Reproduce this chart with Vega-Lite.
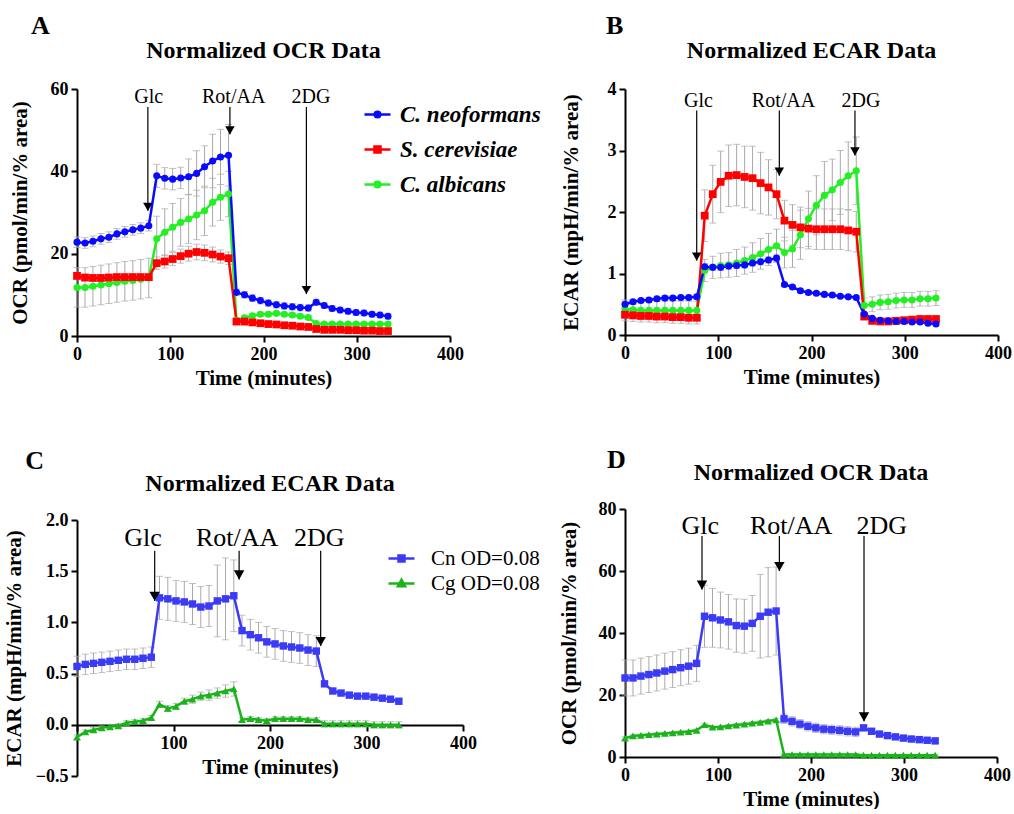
{
"$schema":"https://vega.github.io/schema/vega-lite/v6.json",
"background":"white",
"padding":{"left":3,"top":12,"right":0,"bottom":0},
"config":{"view":{"stroke":null},"font":"Liberation Serif",
 "axis":{"grid":false,"domainColor":"black","domainWidth":2,"tickColor":"black","tickWidth":2,"tickSize":6,"labelFont":"Liberation Serif","labelFontSize":18,"labelFontWeight":"bold","labelColor":"black","titleFont":"Liberation Serif","titleFontSize":21,"titleFontWeight":"bold","titleColor":"black","labelPadding":3,"labelFlush":false,"labelOverlap":false},
 "axisX":{"titlePadding":4},
 "axisY":{"titlePadding":8},
 "title":{"font":"Liberation Serif","fontSize":26,"fontWeight":"bold","color":"black","anchor":"start","frame":"bounds"}
},
"datasets":{
"A":[
{"s":"C. albicans","t":0,"v":11.8,"e":4.8},{"s":"C. albicans","t":8.6,"v":11.8,"e":4.8},{"s":"C. albicans","t":17.1,"v":12.1,"e":4.8},{"s":"C. albicans","t":25.7,"v":12.4,"e":4.8},{"s":"C. albicans","t":34.2,"v":12.7,"e":4.8},{"s":"C. albicans","t":42.8,"v":13.0,"e":4.8},{"s":"C. albicans","t":51.3,"v":13.3,"e":4.8},{"s":"C. albicans","t":59.9,"v":13.5,"e":4.8},{"s":"C. albicans","t":68.4,"v":13.8,"e":4.8},{"s":"C. albicans","t":77,"v":14.1,"e":4.8},
{"s":"C. albicans","t":85.5,"v":23.6,"e":5.5},{"s":"C. albicans","t":94.1,"v":25.2,"e":5.7},{"s":"C. albicans","t":102.6,"v":26.4,"e":5.8},{"s":"C. albicans","t":111.2,"v":27.6,"e":5.8},{"s":"C. albicans","t":119.7,"v":28.4,"e":5.9},{"s":"C. albicans","t":128.3,"v":29.4,"e":6.0},{"s":"C. albicans","t":136.8,"v":30.4,"e":6.0},{"s":"C. albicans","t":145.4,"v":32.5,"e":5.8},{"s":"C. albicans","t":153.9,"v":33.7,"e":5.6},{"s":"C. albicans","t":162.5,"v":34.5,"e":5.5},
{"s":"C. albicans","t":171,"v":3.8,"e":0.5},{"s":"C. albicans","t":179.6,"v":4.4,"e":0.5},{"s":"C. albicans","t":188.1,"v":4.9,"e":0.5},{"s":"C. albicans","t":196.7,"v":5.3,"e":0.5},{"s":"C. albicans","t":205.2,"v":5.3,"e":0.5},{"s":"C. albicans","t":213.8,"v":5.5,"e":0.5},{"s":"C. albicans","t":222.3,"v":5.3,"e":0.5},{"s":"C. albicans","t":230.9,"v":5.1,"e":0.5},{"s":"C. albicans","t":239.4,"v":4.8,"e":0.5},{"s":"C. albicans","t":248,"v":4.5,"e":0.5},
{"s":"C. albicans","t":256.5,"v":3.0,"e":0.4},{"s":"C. albicans","t":265.1,"v":2.9,"e":0.4},{"s":"C. albicans","t":273.6,"v":2.9,"e":0.4},{"s":"C. albicans","t":282.2,"v":2.9,"e":0.4},{"s":"C. albicans","t":290.7,"v":2.9,"e":0.4},{"s":"C. albicans","t":299.3,"v":2.9,"e":0.4},{"s":"C. albicans","t":307.8,"v":2.9,"e":0.4},{"s":"C. albicans","t":316.4,"v":2.9,"e":0.4},{"s":"C. albicans","t":324.9,"v":2.9,"e":0.4},{"s":"C. albicans","t":333.5,"v":2.9,"e":0.4},
{"s":"S. cerevisiae","t":0,"v":14.6,"e":0.8},{"s":"S. cerevisiae","t":8.6,"v":14.2,"e":0.8},{"s":"S. cerevisiae","t":17.1,"v":14.1,"e":0.8},{"s":"S. cerevisiae","t":25.7,"v":14.1,"e":0.8},{"s":"S. cerevisiae","t":34.2,"v":14.2,"e":0.8},{"s":"S. cerevisiae","t":42.8,"v":14.3,"e":0.8},{"s":"S. cerevisiae","t":51.3,"v":14.3,"e":0.8},{"s":"S. cerevisiae","t":59.9,"v":14.3,"e":0.8},{"s":"S. cerevisiae","t":68.4,"v":14.3,"e":0.8},{"s":"S. cerevisiae","t":77,"v":14.3,"e":0.8},
{"s":"S. cerevisiae","t":85.5,"v":17.7,"e":1.5},{"s":"S. cerevisiae","t":94.1,"v":18.1,"e":1.6},{"s":"S. cerevisiae","t":102.6,"v":18.7,"e":1.6},{"s":"S. cerevisiae","t":111.2,"v":19.4,"e":1.7},{"s":"S. cerevisiae","t":119.7,"v":20.0,"e":1.8},{"s":"S. cerevisiae","t":128.3,"v":20.4,"e":1.9},{"s":"S. cerevisiae","t":136.8,"v":20.2,"e":1.9},{"s":"S. cerevisiae","t":145.4,"v":19.8,"e":1.8},{"s":"S. cerevisiae","t":153.9,"v":19.3,"e":1.6},{"s":"S. cerevisiae","t":162.5,"v":18.9,"e":1.5},
{"s":"S. cerevisiae","t":171,"v":3.5,"e":0.4},{"s":"S. cerevisiae","t":179.6,"v":3.5,"e":0.4},{"s":"S. cerevisiae","t":188.1,"v":3.3,"e":0.4},{"s":"S. cerevisiae","t":196.7,"v":3.1,"e":0.4},{"s":"S. cerevisiae","t":205.2,"v":2.9,"e":0.4},{"s":"S. cerevisiae","t":213.8,"v":2.8,"e":0.4},{"s":"S. cerevisiae","t":222.3,"v":2.6,"e":0.4},{"s":"S. cerevisiae","t":230.9,"v":2.5,"e":0.4},{"s":"S. cerevisiae","t":239.4,"v":2.3,"e":0.4},{"s":"S. cerevisiae","t":248,"v":2.2,"e":0.4},
{"s":"S. cerevisiae","t":256.5,"v":1.7,"e":0.3},{"s":"S. cerevisiae","t":265.1,"v":1.5,"e":0.3},{"s":"S. cerevisiae","t":273.6,"v":1.5,"e":0.3},{"s":"S. cerevisiae","t":282.2,"v":1.5,"e":0.3},{"s":"S. cerevisiae","t":290.7,"v":1.4,"e":0.3},{"s":"S. cerevisiae","t":299.3,"v":1.4,"e":0.3},{"s":"S. cerevisiae","t":307.8,"v":1.3,"e":0.3},{"s":"S. cerevisiae","t":316.4,"v":1.3,"e":0.3},{"s":"S. cerevisiae","t":324.9,"v":1.2,"e":0.3},{"s":"S. cerevisiae","t":333.5,"v":1.2,"e":0.3},
{"s":"C. neoformans","t":0,"v":22.8,"e":1.3},{"s":"C. neoformans","t":8.6,"v":22.6,"e":1.3},{"s":"C. neoformans","t":17.1,"v":23.0,"e":1.3},{"s":"C. neoformans","t":25.7,"v":23.6,"e":1.3},{"s":"C. neoformans","t":34.2,"v":24.0,"e":1.3},{"s":"C. neoformans","t":42.8,"v":24.8,"e":1.3},{"s":"C. neoformans","t":51.3,"v":25.3,"e":1.3},{"s":"C. neoformans","t":59.9,"v":25.8,"e":1.3},{"s":"C. neoformans","t":68.4,"v":26.2,"e":1.3},{"s":"C. neoformans","t":77,"v":26.8,"e":1.3},
{"s":"C. neoformans","t":85.5,"v":38.9,"e":2.8},{"s":"C. neoformans","t":94.1,"v":38.3,"e":2.6},{"s":"C. neoformans","t":102.6,"v":38.1,"e":2.6},{"s":"C. neoformans","t":111.2,"v":38.4,"e":2.6},{"s":"C. neoformans","t":119.7,"v":38.7,"e":4.3},{"s":"C. neoformans","t":128.3,"v":39.5,"e":5.5},{"s":"C. neoformans","t":136.8,"v":41.1,"e":5.1},{"s":"C. neoformans","t":145.4,"v":42.5,"e":6.5},{"s":"C. neoformans","t":153.9,"v":43.5,"e":6.7},{"s":"C. neoformans","t":162.5,"v":43.9,"e":7.5},
{"s":"C. neoformans","t":171,"v":10.6,"e":0.8},{"s":"C. neoformans","t":179.6,"v":10.0,"e":0.8},{"s":"C. neoformans","t":188.1,"v":9.2,"e":0.8},{"s":"C. neoformans","t":196.7,"v":8.6,"e":0.8},{"s":"C. neoformans","t":205.2,"v":8.0,"e":0.8},{"s":"C. neoformans","t":213.8,"v":7.6,"e":0.8},{"s":"C. neoformans","t":222.3,"v":7.3,"e":0.8},{"s":"C. neoformans","t":230.9,"v":7.1,"e":0.8},{"s":"C. neoformans","t":239.4,"v":6.9,"e":0.8},{"s":"C. neoformans","t":248,"v":6.8,"e":0.8},
{"s":"C. neoformans","t":256.5,"v":8.2,"e":0.7},{"s":"C. neoformans","t":265.1,"v":7.4,"e":0.7},{"s":"C. neoformans","t":273.6,"v":6.7,"e":0.7},{"s":"C. neoformans","t":282.2,"v":6.3,"e":0.7},{"s":"C. neoformans","t":290.7,"v":6.0,"e":0.7},{"s":"C. neoformans","t":299.3,"v":5.7,"e":0.7},{"s":"C. neoformans","t":307.8,"v":5.6,"e":0.7},{"s":"C. neoformans","t":316.4,"v":5.3,"e":0.7},{"s":"C. neoformans","t":324.9,"v":5.1,"e":0.7},{"s":"C. neoformans","t":333.5,"v":4.8,"e":0.7}
],
"B":[
{"s":"C. albicans","t":0,"v":0.42,"e":0.15},{"s":"C. albicans","t":8.6,"v":0.41,"e":0.15},{"s":"C. albicans","t":17.1,"v":0.40,"e":0.15},{"s":"C. albicans","t":25.7,"v":0.40,"e":0.15},{"s":"C. albicans","t":34.2,"v":0.40,"e":0.15},{"s":"C. albicans","t":42.8,"v":0.40,"e":0.15},{"s":"C. albicans","t":51.3,"v":0.40,"e":0.15},{"s":"C. albicans","t":59.9,"v":0.40,"e":0.15},{"s":"C. albicans","t":68.4,"v":0.40,"e":0.15},{"s":"C. albicans","t":77,"v":0.40,"e":0.15},
{"s":"C. albicans","t":85.5,"v":1.05,"e":0.18},{"s":"C. albicans","t":94.1,"v":1.10,"e":0.18},{"s":"C. albicans","t":102.6,"v":1.13,"e":0.2},{"s":"C. albicans","t":111.2,"v":1.14,"e":0.2},{"s":"C. albicans","t":119.7,"v":1.17,"e":0.22},{"s":"C. albicans","t":128.3,"v":1.21,"e":0.22},{"s":"C. albicans","t":136.8,"v":1.26,"e":0.24},{"s":"C. albicans","t":145.4,"v":1.32,"e":0.25},{"s":"C. albicans","t":153.9,"v":1.39,"e":0.26},{"s":"C. albicans","t":162.5,"v":1.45,"e":0.27},
{"s":"C. albicans","t":171,"v":1.34,"e":0.25},{"s":"C. albicans","t":179.6,"v":1.40,"e":0.3},{"s":"C. albicans","t":188.1,"v":1.63,"e":0.4},{"s":"C. albicans","t":196.7,"v":1.89,"e":0.45},{"s":"C. albicans","t":205.2,"v":2.11,"e":0.48},{"s":"C. albicans","t":213.8,"v":2.27,"e":0.55},{"s":"C. albicans","t":222.3,"v":2.36,"e":0.5},{"s":"C. albicans","t":230.9,"v":2.48,"e":0.52},{"s":"C. albicans","t":239.4,"v":2.59,"e":0.55},{"s":"C. albicans","t":248,"v":2.67,"e":0.55},
{"s":"C. albicans","t":256.5,"v":0.48,"e":0.12},{"s":"C. albicans","t":265.1,"v":0.50,"e":0.12},{"s":"C. albicans","t":273.6,"v":0.53,"e":0.12},{"s":"C. albicans","t":282.2,"v":0.54,"e":0.12},{"s":"C. albicans","t":290.7,"v":0.56,"e":0.12},{"s":"C. albicans","t":299.3,"v":0.57,"e":0.12},{"s":"C. albicans","t":307.8,"v":0.57,"e":0.12},{"s":"C. albicans","t":316.4,"v":0.59,"e":0.12},{"s":"C. albicans","t":324.9,"v":0.59,"e":0.12},{"s":"C. albicans","t":333.5,"v":0.60,"e":0.12},
{"s":"S. cerevisiae","t":0,"v":0.33,"e":0.1},{"s":"S. cerevisiae","t":8.6,"v":0.32,"e":0.1},{"s":"S. cerevisiae","t":17.1,"v":0.31,"e":0.1},{"s":"S. cerevisiae","t":25.7,"v":0.31,"e":0.1},{"s":"S. cerevisiae","t":34.2,"v":0.30,"e":0.1},{"s":"S. cerevisiae","t":42.8,"v":0.30,"e":0.1},{"s":"S. cerevisiae","t":51.3,"v":0.29,"e":0.1},{"s":"S. cerevisiae","t":59.9,"v":0.29,"e":0.1},{"s":"S. cerevisiae","t":68.4,"v":0.28,"e":0.1},{"s":"S. cerevisiae","t":77,"v":0.28,"e":0.1},
{"s":"S. cerevisiae","t":85.5,"v":1.94,"e":0.42},{"s":"S. cerevisiae","t":94.1,"v":2.29,"e":0.47},{"s":"S. cerevisiae","t":102.6,"v":2.49,"e":0.5},{"s":"S. cerevisiae","t":111.2,"v":2.59,"e":0.5},{"s":"S. cerevisiae","t":119.7,"v":2.60,"e":0.5},{"s":"S. cerevisiae","t":128.3,"v":2.57,"e":0.5},{"s":"S. cerevisiae","t":136.8,"v":2.55,"e":0.52},{"s":"S. cerevisiae","t":145.4,"v":2.47,"e":0.5},{"s":"S. cerevisiae","t":153.9,"v":2.40,"e":0.45},{"s":"S. cerevisiae","t":162.5,"v":2.29,"e":0.4},
{"s":"S. cerevisiae","t":171,"v":1.86,"e":0.33},{"s":"S. cerevisiae","t":179.6,"v":1.79,"e":0.33},{"s":"S. cerevisiae","t":188.1,"v":1.75,"e":0.33},{"s":"S. cerevisiae","t":196.7,"v":1.73,"e":0.33},{"s":"S. cerevisiae","t":205.2,"v":1.72,"e":0.33},{"s":"S. cerevisiae","t":213.8,"v":1.72,"e":0.33},{"s":"S. cerevisiae","t":222.3,"v":1.72,"e":0.33},{"s":"S. cerevisiae","t":230.9,"v":1.72,"e":0.33},{"s":"S. cerevisiae","t":239.4,"v":1.70,"e":0.33},{"s":"S. cerevisiae","t":248,"v":1.68,"e":0.33},
{"s":"S. cerevisiae","t":256.5,"v":0.30,"e":0.05},{"s":"S. cerevisiae","t":265.1,"v":0.23,"e":0.05},{"s":"S. cerevisiae","t":273.6,"v":0.22,"e":0.05},{"s":"S. cerevisiae","t":282.2,"v":0.22,"e":0.05},{"s":"S. cerevisiae","t":290.7,"v":0.23,"e":0.05},{"s":"S. cerevisiae","t":299.3,"v":0.24,"e":0.05},{"s":"S. cerevisiae","t":307.8,"v":0.25,"e":0.05},{"s":"S. cerevisiae","t":316.4,"v":0.26,"e":0.05},{"s":"S. cerevisiae","t":324.9,"v":0.26,"e":0.05},{"s":"S. cerevisiae","t":333.5,"v":0.26,"e":0.05},
{"s":"C. neoformans","t":0,"v":0.50,"e":0.04},{"s":"C. neoformans","t":8.6,"v":0.54,"e":0.04},{"s":"C. neoformans","t":17.1,"v":0.56,"e":0.04},{"s":"C. neoformans","t":25.7,"v":0.57,"e":0.04},{"s":"C. neoformans","t":34.2,"v":0.59,"e":0.04},{"s":"C. neoformans","t":42.8,"v":0.60,"e":0.04},{"s":"C. neoformans","t":51.3,"v":0.60,"e":0.04},{"s":"C. neoformans","t":59.9,"v":0.61,"e":0.04},{"s":"C. neoformans","t":68.4,"v":0.61,"e":0.04},{"s":"C. neoformans","t":77,"v":0.62,"e":0.04},
{"s":"C. neoformans","t":85.5,"v":1.11,"e":0.05},{"s":"C. neoformans","t":94.1,"v":1.10,"e":0.05},{"s":"C. neoformans","t":102.6,"v":1.10,"e":0.05},{"s":"C. neoformans","t":111.2,"v":1.12,"e":0.05},{"s":"C. neoformans","t":119.7,"v":1.13,"e":0.05},{"s":"C. neoformans","t":128.3,"v":1.14,"e":0.05},{"s":"C. neoformans","t":136.8,"v":1.17,"e":0.05},{"s":"C. neoformans","t":145.4,"v":1.19,"e":0.05},{"s":"C. neoformans","t":153.9,"v":1.22,"e":0.05},{"s":"C. neoformans","t":162.5,"v":1.25,"e":0.05},
{"s":"C. neoformans","t":171,"v":0.82,"e":0.03},{"s":"C. neoformans","t":179.6,"v":0.78,"e":0.03},{"s":"C. neoformans","t":188.1,"v":0.72,"e":0.03},{"s":"C. neoformans","t":196.7,"v":0.69,"e":0.03},{"s":"C. neoformans","t":205.2,"v":0.68,"e":0.03},{"s":"C. neoformans","t":213.8,"v":0.66,"e":0.03},{"s":"C. neoformans","t":222.3,"v":0.65,"e":0.03},{"s":"C. neoformans","t":230.9,"v":0.63,"e":0.03},{"s":"C. neoformans","t":239.4,"v":0.62,"e":0.03},{"s":"C. neoformans","t":248,"v":0.61,"e":0.03},
{"s":"C. neoformans","t":256.5,"v":0.34,"e":0.02},{"s":"C. neoformans","t":265.1,"v":0.27,"e":0.02},{"s":"C. neoformans","t":273.6,"v":0.24,"e":0.02},{"s":"C. neoformans","t":282.2,"v":0.23,"e":0.02},{"s":"C. neoformans","t":290.7,"v":0.22,"e":0.02},{"s":"C. neoformans","t":299.3,"v":0.22,"e":0.02},{"s":"C. neoformans","t":307.8,"v":0.21,"e":0.02},{"s":"C. neoformans","t":316.4,"v":0.21,"e":0.02},{"s":"C. neoformans","t":324.9,"v":0.19,"e":0.02},{"s":"C. neoformans","t":333.5,"v":0.18,"e":0.02}
],
"C":[
{"s":"Cg OD=0.08","t":0,"v":-0.12,"e":0.02},{"s":"Cg OD=0.08","t":8.6,"v":-0.07,"e":0.02},{"s":"Cg OD=0.08","t":17.1,"v":-0.05,"e":0.02},{"s":"Cg OD=0.08","t":25.7,"v":-0.03,"e":0.02},{"s":"Cg OD=0.08","t":34.2,"v":-0.02,"e":0.02},{"s":"Cg OD=0.08","t":42.8,"v":-0.01,"e":0.02},{"s":"Cg OD=0.08","t":51.3,"v":0.02,"e":0.02},{"s":"Cg OD=0.08","t":59.9,"v":0.03,"e":0.02},{"s":"Cg OD=0.08","t":68.4,"v":0.04,"e":0.02},{"s":"Cg OD=0.08","t":77,"v":0.07,"e":0.02},
{"s":"Cg OD=0.08","t":85.5,"v":0.20,"e":0.03},{"s":"Cg OD=0.08","t":94.1,"v":0.16,"e":0.03},{"s":"Cg OD=0.08","t":102.6,"v":0.18,"e":0.03},{"s":"Cg OD=0.08","t":111.2,"v":0.23,"e":0.03},{"s":"Cg OD=0.08","t":119.7,"v":0.25,"e":0.04},{"s":"Cg OD=0.08","t":128.3,"v":0.28,"e":0.04},{"s":"Cg OD=0.08","t":136.8,"v":0.29,"e":0.05},{"s":"Cg OD=0.08","t":145.4,"v":0.31,"e":0.05},{"s":"Cg OD=0.08","t":153.9,"v":0.33,"e":0.06},{"s":"Cg OD=0.08","t":162.5,"v":0.35,"e":0.07},
{"s":"Cg OD=0.08","t":171,"v":0.05,"e":0.02},{"s":"Cg OD=0.08","t":179.6,"v":0.06,"e":0.02},{"s":"Cg OD=0.08","t":188.1,"v":0.05,"e":0.02},{"s":"Cg OD=0.08","t":196.7,"v":0.04,"e":0.02},{"s":"Cg OD=0.08","t":205.2,"v":0.06,"e":0.02},{"s":"Cg OD=0.08","t":213.8,"v":0.06,"e":0.02},{"s":"Cg OD=0.08","t":222.3,"v":0.06,"e":0.02},{"s":"Cg OD=0.08","t":230.9,"v":0.06,"e":0.02},{"s":"Cg OD=0.08","t":239.4,"v":0.05,"e":0.02},{"s":"Cg OD=0.08","t":248,"v":0.05,"e":0.02},
{"s":"Cg OD=0.08","t":256.5,"v":0.01,"e":0.03},{"s":"Cg OD=0.08","t":265.1,"v":0.01,"e":0.03},{"s":"Cg OD=0.08","t":273.6,"v":0.01,"e":0.03},{"s":"Cg OD=0.08","t":282.2,"v":0.01,"e":0.03},{"s":"Cg OD=0.08","t":290.7,"v":0.01,"e":0.03},{"s":"Cg OD=0.08","t":299.3,"v":0.01,"e":0.03},{"s":"Cg OD=0.08","t":307.8,"v":0.0,"e":0.03},{"s":"Cg OD=0.08","t":316.4,"v":0.0,"e":0.03},{"s":"Cg OD=0.08","t":324.9,"v":0.0,"e":0.03},{"s":"Cg OD=0.08","t":333.5,"v":0.0,"e":0.03},
{"s":"Cn OD=0.08","t":0,"v":0.57,"e":0.1},{"s":"Cn OD=0.08","t":8.6,"v":0.59,"e":0.1},{"s":"Cn OD=0.08","t":17.1,"v":0.60,"e":0.1},{"s":"Cn OD=0.08","t":25.7,"v":0.61,"e":0.1},{"s":"Cn OD=0.08","t":34.2,"v":0.62,"e":0.1},{"s":"Cn OD=0.08","t":42.8,"v":0.63,"e":0.1},{"s":"Cn OD=0.08","t":51.3,"v":0.64,"e":0.1},{"s":"Cn OD=0.08","t":59.9,"v":0.64,"e":0.1},{"s":"Cn OD=0.08","t":68.4,"v":0.65,"e":0.1},{"s":"Cn OD=0.08","t":77,"v":0.66,"e":0.1},
{"s":"Cn OD=0.08","t":85.5,"v":1.24,"e":0.21},{"s":"Cn OD=0.08","t":94.1,"v":1.23,"e":0.21},{"s":"Cn OD=0.08","t":102.6,"v":1.21,"e":0.2},{"s":"Cn OD=0.08","t":111.2,"v":1.20,"e":0.2},{"s":"Cn OD=0.08","t":119.7,"v":1.18,"e":0.2},{"s":"Cn OD=0.08","t":128.3,"v":1.15,"e":0.2},{"s":"Cn OD=0.08","t":136.8,"v":1.16,"e":0.2},{"s":"Cn OD=0.08","t":145.4,"v":1.21,"e":0.35},{"s":"Cn OD=0.08","t":153.9,"v":1.23,"e":0.4},{"s":"Cn OD=0.08","t":162.5,"v":1.26,"e":0.35},
{"s":"Cn OD=0.08","t":171,"v":0.92,"e":0.15},{"s":"Cn OD=0.08","t":179.6,"v":0.88,"e":0.15},{"s":"Cn OD=0.08","t":188.1,"v":0.85,"e":0.15},{"s":"Cn OD=0.08","t":196.7,"v":0.81,"e":0.15},{"s":"Cn OD=0.08","t":205.2,"v":0.79,"e":0.15},{"s":"Cn OD=0.08","t":213.8,"v":0.77,"e":0.15},{"s":"Cn OD=0.08","t":222.3,"v":0.76,"e":0.15},{"s":"Cn OD=0.08","t":230.9,"v":0.75,"e":0.15},{"s":"Cn OD=0.08","t":239.4,"v":0.73,"e":0.15},{"s":"Cn OD=0.08","t":248,"v":0.72,"e":0.15},
{"s":"Cn OD=0.08","t":256.5,"v":0.40,"e":0.02},{"s":"Cn OD=0.08","t":265.1,"v":0.33,"e":0.02},{"s":"Cn OD=0.08","t":273.6,"v":0.31,"e":0.02},{"s":"Cn OD=0.08","t":282.2,"v":0.29,"e":0.02},{"s":"Cn OD=0.08","t":290.7,"v":0.28,"e":0.02},{"s":"Cn OD=0.08","t":299.3,"v":0.28,"e":0.02},{"s":"Cn OD=0.08","t":307.8,"v":0.27,"e":0.02},{"s":"Cn OD=0.08","t":316.4,"v":0.26,"e":0.02},{"s":"Cn OD=0.08","t":324.9,"v":0.25,"e":0.02},{"s":"Cn OD=0.08","t":333.5,"v":0.23,"e":0.02}
],
"D":[
{"s":"Cg OD=0.08","t":0,"v":6.1,"e":0.4},{"s":"Cg OD=0.08","t":8.6,"v":6.8,"e":0.4},{"s":"Cg OD=0.08","t":17.1,"v":7.0,"e":0.4},{"s":"Cg OD=0.08","t":25.7,"v":7.2,"e":0.4},{"s":"Cg OD=0.08","t":34.2,"v":7.4,"e":0.4},{"s":"Cg OD=0.08","t":42.8,"v":7.6,"e":0.4},{"s":"Cg OD=0.08","t":51.3,"v":7.8,"e":0.4},{"s":"Cg OD=0.08","t":59.9,"v":8.0,"e":0.4},{"s":"Cg OD=0.08","t":68.4,"v":8.2,"e":0.4},{"s":"Cg OD=0.08","t":77,"v":8.6,"e":0.4},
{"s":"Cg OD=0.08","t":85.5,"v":10.4,"e":0.5},{"s":"Cg OD=0.08","t":94.1,"v":9.6,"e":0.5},{"s":"Cg OD=0.08","t":102.6,"v":9.7,"e":0.5},{"s":"Cg OD=0.08","t":111.2,"v":10.0,"e":0.5},{"s":"Cg OD=0.08","t":119.7,"v":10.3,"e":0.5},{"s":"Cg OD=0.08","t":128.3,"v":10.6,"e":0.5},{"s":"Cg OD=0.08","t":136.8,"v":10.9,"e":0.5},{"s":"Cg OD=0.08","t":145.4,"v":11.2,"e":0.5},{"s":"Cg OD=0.08","t":153.9,"v":11.6,"e":0.5},{"s":"Cg OD=0.08","t":162.5,"v":12.0,"e":0.5},
{"s":"Cg OD=0.08","t":171,"v":0.8,"e":0.2},{"s":"Cg OD=0.08","t":179.6,"v":0.8,"e":0.2},{"s":"Cg OD=0.08","t":188.1,"v":0.8,"e":0.2},{"s":"Cg OD=0.08","t":196.7,"v":0.8,"e":0.2},{"s":"Cg OD=0.08","t":205.2,"v":0.8,"e":0.2},{"s":"Cg OD=0.08","t":213.8,"v":0.8,"e":0.2},{"s":"Cg OD=0.08","t":222.3,"v":0.8,"e":0.2},{"s":"Cg OD=0.08","t":230.9,"v":0.8,"e":0.2},{"s":"Cg OD=0.08","t":239.4,"v":0.8,"e":0.2},{"s":"Cg OD=0.08","t":248,"v":0.8,"e":0.2},
{"s":"Cg OD=0.08","t":256.5,"v":0.6,"e":0.2},{"s":"Cg OD=0.08","t":265.1,"v":0.6,"e":0.2},{"s":"Cg OD=0.08","t":273.6,"v":0.6,"e":0.2},{"s":"Cg OD=0.08","t":282.2,"v":0.6,"e":0.2},{"s":"Cg OD=0.08","t":290.7,"v":0.6,"e":0.2},{"s":"Cg OD=0.08","t":299.3,"v":0.6,"e":0.2},{"s":"Cg OD=0.08","t":307.8,"v":0.6,"e":0.2},{"s":"Cg OD=0.08","t":316.4,"v":0.6,"e":0.2},{"s":"Cg OD=0.08","t":324.9,"v":0.6,"e":0.2},{"s":"Cg OD=0.08","t":333.5,"v":0.6,"e":0.2},
{"s":"Cn OD=0.08","t":0,"v":25.5,"e":5.8},{"s":"Cn OD=0.08","t":8.6,"v":25.5,"e":5.8},{"s":"Cn OD=0.08","t":17.1,"v":26.1,"e":5.8},{"s":"Cn OD=0.08","t":25.7,"v":26.6,"e":5.8},{"s":"Cn OD=0.08","t":34.2,"v":27.1,"e":5.8},{"s":"Cn OD=0.08","t":42.8,"v":27.7,"e":5.8},{"s":"Cn OD=0.08","t":51.3,"v":28.2,"e":5.8},{"s":"Cn OD=0.08","t":59.9,"v":28.8,"e":5.8},{"s":"Cn OD=0.08","t":68.4,"v":29.3,"e":5.8},{"s":"Cn OD=0.08","t":77,"v":30.2,"e":5.8},
{"s":"Cn OD=0.08","t":85.5,"v":45.4,"e":10},{"s":"Cn OD=0.08","t":94.1,"v":44.9,"e":9.5},{"s":"Cn OD=0.08","t":102.6,"v":44.2,"e":9},{"s":"Cn OD=0.08","t":111.2,"v":43.6,"e":8.8},{"s":"Cn OD=0.08","t":119.7,"v":42.4,"e":8.6},{"s":"Cn OD=0.08","t":128.3,"v":42.2,"e":8.7},{"s":"Cn OD=0.08","t":136.8,"v":43.1,"e":9},{"s":"Cn OD=0.08","t":145.4,"v":45.4,"e":13.5},{"s":"Cn OD=0.08","t":153.9,"v":46.7,"e":14.4},{"s":"Cn OD=0.08","t":162.5,"v":47.1,"e":14.2},
{"s":"Cn OD=0.08","t":171,"v":12.3,"e":1.5},{"s":"Cn OD=0.08","t":179.6,"v":11.5,"e":1.5},{"s":"Cn OD=0.08","t":188.1,"v":10.6,"e":1.5},{"s":"Cn OD=0.08","t":196.7,"v":9.9,"e":1.5},{"s":"Cn OD=0.08","t":205.2,"v":9.4,"e":1.5},{"s":"Cn OD=0.08","t":213.8,"v":9.0,"e":1.5},{"s":"Cn OD=0.08","t":222.3,"v":8.8,"e":1.5},{"s":"Cn OD=0.08","t":230.9,"v":8.6,"e":1.5},{"s":"Cn OD=0.08","t":239.4,"v":8.3,"e":1.5},{"s":"Cn OD=0.08","t":248,"v":8.1,"e":1.5},
{"s":"Cn OD=0.08","t":256.5,"v":9.4,"e":0.6},{"s":"Cn OD=0.08","t":265.1,"v":8.3,"e":0.6},{"s":"Cn OD=0.08","t":273.6,"v":7.4,"e":0.6},{"s":"Cn OD=0.08","t":282.2,"v":6.9,"e":0.6},{"s":"Cn OD=0.08","t":290.7,"v":6.5,"e":0.6},{"s":"Cn OD=0.08","t":299.3,"v":6.1,"e":0.6},{"s":"Cn OD=0.08","t":307.8,"v":5.8,"e":0.6},{"s":"Cn OD=0.08","t":316.4,"v":5.6,"e":0.6},{"s":"Cn OD=0.08","t":324.9,"v":5.4,"e":0.6},{"s":"Cn OD=0.08","t":333.5,"v":5.2,"e":0.6}
],
"arr":[
{"p":"A","t":76,"v":55.6,"v2":30.4},{"p":"A","t":164,"v":55.6,"v2":49.0},{"p":"A","t":246,"v":55.6,"v2":10.2},
{"p":"B","t":76.9,"v":3.65,"v2":1.21},{"p":"B","t":165.5,"v":3.65,"v2":2.59},{"p":"B","t":246.6,"v":3.65,"v2":2.92},
{"p":"C","t":80.5,"v":1.70,"v2":1.21},{"p":"C","t":168,"v":1.70,"v2":1.42},{"p":"C","t":252.5,"v":1.70,"v2":0.77},
{"p":"D","t":82.8,"v":71.3,"v2":54.0},{"p":"D","t":166,"v":71.3,"v2":60.0},{"p":"D","t":257,"v":71.3,"v2":11.5}
],
"lab":[
{"p":"A","k":"a","t":77,"v":56.6,"txt":"Glc"},{"p":"A","k":"a","t":168,"v":56.6,"txt":"Rot/AA"},{"p":"A","k":"a","t":251,"v":56.6,"txt":"2DG"},{"p":"A","k":"h","t":200,"v":69.2,"txt":"Normalized OCR Data"},
{"p":"B","k":"a","t":78.8,"v":3.70,"txt":"Glc"},{"p":"B","k":"a","t":170,"v":3.70,"txt":"Rot/AA"},{"p":"B","k":"a","t":253,"v":3.70,"txt":"2DG"},{"p":"B","k":"h","t":200,"v":4.62,"txt":"Normalized ECAR Data"},
{"p":"C","k":"a","t":68.4,"v":1.75,"txt":"Glc"},{"p":"C","k":"a","t":166,"v":1.75,"txt":"Rot/AA"},{"p":"C","k":"a","t":251,"v":1.75,"txt":"2DG"},{"p":"C","k":"h","t":200,"v":2.35,"txt":"Normalized ECAR Data"},
{"p":"D","k":"a","t":81,"v":71.8,"txt":"Glc"},{"p":"D","k":"a","t":178.6,"v":71.8,"txt":"Rot/AA"},{"p":"D","k":"a","t":276,"v":71.8,"txt":"2DG"},{"p":"D","k":"h","t":200,"v":91.5,"txt":"Normalized OCR Data"}
]
},
"resolve":{"scale":{"x":"independent","y":"independent","color":"independent","fill":"independent","stroke":"independent","shape":"independent"},"legend":{"color":"independent","fill":"independent","stroke":"independent","shape":"independent"},"axis":{"x":"independent","y":"independent"}},
"spacing":17,
"hconcat":[
{"vconcat":[
 {"width":373,"height":247,"title":{"text":"A","dx":22,"offset":0,"fontSize":26},
  "encoding":{"x":{"field":"t","type":"quantitative","scale":{"domain":[0,400],"nice":false,"zero":false},"axis":{"title":"Time (minutes)","values":[0,100,200,300,400]}},
   "y":{"field":"v","type":"quantitative","scale":{"domain":[0,60],"nice":false,"zero":false},"axis":{"title":"OCR (pmol/min/% area)","values":[0,20,40,60],"titlePadding":20}}},
  "layer":[
   {"data":{"name":"A"},"mark":{"type":"errorbar","ticks":{"size":7},"color":"#a8a8a8","thickness":1},"encoding":{"yError":{"field":"e"}}},
   {"data":{"name":"A"},"mark":{"type":"line","strokeWidth":2.5},"encoding":{"color":{"field":"s","type":"nominal","scale":{"domain":["C. albicans","S. cerevisiae","C. neoformans"],"range":["#22f022","#ff0000","#0a0aff"]},"legend":null}}},
   {"data":{"name":"A"},"transform":[{"filter":"datum.s==='C. albicans'"}],"mark":{"type":"point","filled":true,"shape":"circle","size":50,"opacity":1},"encoding":{"color":{"field":"s","type":"nominal","scale":{"domain":["C. albicans","S. cerevisiae","C. neoformans"],"range":["#22f022","#ff0000","#0a0aff"]},"legend":null}}},
   {"data":{"name":"A"},"transform":[{"filter":"datum.s==='S. cerevisiae'"}],"mark":{"type":"point","filled":true,"shape":"square","size":60,"opacity":1},"encoding":{"color":{"field":"s","type":"nominal","scale":{"domain":["C. albicans","S. cerevisiae","C. neoformans"],"range":["#22f022","#ff0000","#0a0aff"]},"legend":null}}},
   {"data":{"name":"A"},"transform":[{"filter":"datum.s==='C. neoformans'"}],"mark":{"type":"point","filled":true,"shape":"circle","size":50,"opacity":1},"encoding":{"color":{"field":"s","type":"nominal","scale":{"domain":["C. albicans","S. cerevisiae","C. neoformans"],"range":["#22f022","#ff0000","#0a0aff"]},"legend":null}}},
   {"data":{"name":"A"},"mark":{"type":"point","filled":true,"opacity":0,"size":400,"strokeWidth":2.5},
    "encoding":{
     "fill":{"field":"s","type":"nominal","scale":{"domain":["C. neoformans","S. cerevisiae","C. albicans"],"range":["#0a0aff","#ff0000","#22f022"]},"legend":{"orient":"none","legendX":289,"legendY":14,"title":null,"labelFont":"Liberation Serif","labelFontSize":23,"labelFontWeight":"bold","labelFontStyle":"italic","labelColor":"black","symbolSize":400,"symbolStrokeWidth":2.5,"symbolOpacity":1,"rowPadding":11,"labelOffset":11,"padding":0}},
     "stroke":{"field":"s","type":"nominal","scale":{"domain":["C. neoformans","S. cerevisiae","C. albicans"],"range":["#0a0aff","#ff0000","#22f022"]},"legend":{"orient":"none","legendX":289,"legendY":14,"title":null,"labelFont":"Liberation Serif","labelFontSize":23,"labelFontWeight":"bold","labelFontStyle":"italic","labelColor":"black","symbolSize":400,"symbolStrokeWidth":2.5,"symbolOpacity":1,"rowPadding":11,"labelOffset":11,"padding":0}},
     "shape":{"field":"s","type":"nominal","scale":{"domain":["C. neoformans","S. cerevisiae","C. albicans"],"range":["M-1.3,0H1.3M0.28,0A0.28,0.28,0,1,1,-0.28,0A0.28,0.28,0,1,1,0.28,0Z","M-1.3,0H1.3M-0.3,-0.3H0.3V0.3H-0.3Z","M-1.3,0H1.3M0.28,0A0.28,0.28,0,1,1,-0.28,0A0.28,0.28,0,1,1,0.28,0Z"]},"legend":{"orient":"none","legendX":289,"legendY":14,"title":null,"labelFont":"Liberation Serif","labelFontSize":23,"labelFontWeight":"bold","labelFontStyle":"italic","labelColor":"black","symbolSize":400,"symbolStrokeWidth":2.5,"symbolOpacity":1,"rowPadding":11,"labelOffset":11,"padding":0}}}},
   {"data":{"name":"arr"},"transform":[{"filter":"datum.p==='A'"}],"mark":{"type":"rule","color":"black","strokeWidth":1.2},"encoding":{"y2":{"field":"v2"}}},
   {"data":{"name":"arr"},"transform":[{"filter":"datum.p==='A'"}],"mark":{"type":"point","shape":"triangle-down","filled":true,"color":"black","size":90,"yOffset":-4,"opacity":1},"encoding":{"y":{"field":"v2","type":"quantitative"}}},
   {"data":{"name":"lab"},"transform":[{"filter":"datum.p==='A' && datum.k==='a'"}],"mark":{"type":"text","font":"Liberation Serif","fontSize":20,"baseline":"alphabetic","align":"center","color":"black"},"encoding":{"text":{"field":"txt"}}},
   {"data":{"name":"lab"},"transform":[{"filter":"datum.p==='A' && datum.k==='h'"}],"mark":{"type":"text","font":"Liberation Serif","fontSize":24,"fontWeight":"bold","baseline":"middle","align":"center","color":"black"},"encoding":{"text":{"field":"txt"}}}
  ]},
 {"width":386,"height":256,"title":{"text":"C","dx":22,"offset":-2,"fontSize":26},
  "encoding":{"x":{"field":"t","type":"quantitative","scale":{"domain":[0,400],"nice":false,"zero":false},"axis":{"title":"Time (minutes)","values":[0,100,200,300,400],"offset":-51,"labelExpr":"datum.value==0?'':datum.label"}},
   "y":{"field":"v","type":"quantitative","scale":{"domain":[-0.5,2],"nice":false,"zero":false},"axis":{"title":"ECAR (mpH/min/% area)","values":[-0.5,0,0.5,1,1.5,2],"format":".1f","titlePadding":11}}},
  "layer":[
   {"data":{"name":"C"},"mark":{"type":"errorbar","ticks":{"size":7},"color":"#a8a8a8","thickness":1},"encoding":{"yError":{"field":"e"}}},
   {"data":{"name":"C"},"mark":{"type":"line","strokeWidth":2.5},"encoding":{"color":{"field":"s","type":"nominal","scale":{"domain":["Cg OD=0.08","Cn OD=0.08"],"range":["#19b419","#3b3bf5"]},"legend":null}}},
   {"data":{"name":"C"},"transform":[{"filter":"datum.s==='Cg OD=0.08'"}],"mark":{"type":"point","filled":true,"shape":"triangle-up","size":60,"opacity":1},"encoding":{"color":{"field":"s","type":"nominal","scale":{"domain":["Cg OD=0.08","Cn OD=0.08"],"range":["#19b419","#3b3bf5"]},"legend":null}}},
   {"data":{"name":"C"},"transform":[{"filter":"datum.s==='Cn OD=0.08'"}],"mark":{"type":"point","filled":true,"shape":"square","size":55,"opacity":1},"encoding":{"color":{"field":"s","type":"nominal","scale":{"domain":["Cg OD=0.08","Cn OD=0.08"],"range":["#19b419","#3b3bf5"]},"legend":null}}},
   {"data":{"name":"C"},"mark":{"type":"point","filled":true,"opacity":0,"size":400,"strokeWidth":2.5},
    "encoding":{
     "fill":{"field":"s","type":"nominal","scale":{"domain":["Cn OD=0.08","Cg OD=0.08"],"range":["#3b3bf5","#19b419"]},"legend":{"orient":"none","legendX":313,"legendY":27,"title":null,"labelFont":"Liberation Serif","labelFontSize":21,"labelColor":"black","symbolSize":400,"symbolStrokeWidth":2.5,"symbolOpacity":1,"rowPadding":3,"labelOffset":18,"padding":0}},
     "stroke":{"field":"s","type":"nominal","scale":{"domain":["Cn OD=0.08","Cg OD=0.08"],"range":["#3b3bf5","#19b419"]},"legend":{"orient":"none","legendX":313,"legendY":27,"title":null,"labelFont":"Liberation Serif","labelFontSize":21,"labelColor":"black","symbolSize":400,"symbolStrokeWidth":2.5,"symbolOpacity":1,"rowPadding":3,"labelOffset":18,"padding":0}},
     "shape":{"field":"s","type":"nominal","scale":{"domain":["Cn OD=0.08","Cg OD=0.08"],"range":["M-1.3,0H1.3M-0.3,-0.3H0.3V0.3H-0.3Z","M-1.3,0H1.3M0,-0.36L0.36,0.28H-0.36Z"]},"legend":{"orient":"none","legendX":313,"legendY":27,"title":null,"labelFont":"Liberation Serif","labelFontSize":21,"labelColor":"black","symbolSize":400,"symbolStrokeWidth":2.5,"symbolOpacity":1,"rowPadding":3,"labelOffset":18,"padding":0}}}},
   {"data":{"name":"arr"},"transform":[{"filter":"datum.p==='C'"}],"mark":{"type":"rule","color":"black","strokeWidth":1.2},"encoding":{"y2":{"field":"v2"}}},
   {"data":{"name":"arr"},"transform":[{"filter":"datum.p==='C'"}],"mark":{"type":"point","shape":"triangle-down","filled":true,"color":"black","size":110,"yOffset":-4.5,"opacity":1},"encoding":{"y":{"field":"v2","type":"quantitative"}}},
   {"data":{"name":"lab"},"transform":[{"filter":"datum.p==='C' && datum.k==='a'"}],"mark":{"type":"text","font":"Liberation Serif","fontSize":26,"baseline":"alphabetic","align":"center","color":"black"},"encoding":{"text":{"field":"txt"}}},
   {"data":{"name":"lab"},"transform":[{"filter":"datum.p==='C' && datum.k==='h'"}],"mark":{"type":"text","font":"Liberation Serif","fontSize":24,"fontWeight":"bold","baseline":"middle","align":"center","color":"black"},"encoding":{"text":{"field":"txt"}}}
  ]}
 ],"spacing":60,
 "resolve":{"scale":{"x":"independent","y":"independent","color":"independent","fill":"independent","stroke":"independent","shape":"independent"},"legend":{"color":"independent","fill":"independent","stroke":"independent","shape":"independent"},"axis":{"x":"independent","y":"independent"}}},
{"vconcat":[
 {"width":373,"height":246,"title":{"text":"B","dx":46,"offset":0,"fontSize":26},
  "encoding":{"x":{"field":"t","type":"quantitative","scale":{"domain":[0,400],"nice":false,"zero":false},"axis":{"title":"Time (minutes)","values":[0,100,200,300,400]}},
   "y":{"field":"v","type":"quantitative","scale":{"domain":[0,4],"nice":false,"zero":false},"axis":{"title":"ECAR (mpH/min/% area)","values":[0,1,2,3,4],"titlePadding":26}}},
  "layer":[
   {"data":{"name":"B"},"mark":{"type":"errorbar","ticks":{"size":7},"color":"#a8a8a8","thickness":1},"encoding":{"yError":{"field":"e"}}},
   {"data":{"name":"B"},"mark":{"type":"line","strokeWidth":2.5},"encoding":{"color":{"field":"s","type":"nominal","scale":{"domain":["C. albicans","S. cerevisiae","C. neoformans"],"range":["#22f022","#ff0000","#0a0aff"]},"legend":null}}},
   {"data":{"name":"B"},"transform":[{"filter":"datum.s==='C. albicans'"}],"mark":{"type":"point","filled":true,"shape":"circle","size":50,"opacity":1},"encoding":{"color":{"field":"s","type":"nominal","scale":{"domain":["C. albicans","S. cerevisiae","C. neoformans"],"range":["#22f022","#ff0000","#0a0aff"]},"legend":null}}},
   {"data":{"name":"B"},"transform":[{"filter":"datum.s==='S. cerevisiae'"}],"mark":{"type":"point","filled":true,"shape":"square","size":60,"opacity":1},"encoding":{"color":{"field":"s","type":"nominal","scale":{"domain":["C. albicans","S. cerevisiae","C. neoformans"],"range":["#22f022","#ff0000","#0a0aff"]},"legend":null}}},
   {"data":{"name":"B"},"transform":[{"filter":"datum.s==='C. neoformans'"}],"mark":{"type":"point","filled":true,"shape":"circle","size":50,"opacity":1},"encoding":{"color":{"field":"s","type":"nominal","scale":{"domain":["C. albicans","S. cerevisiae","C. neoformans"],"range":["#22f022","#ff0000","#0a0aff"]},"legend":null}}},
   {"data":{"name":"arr"},"transform":[{"filter":"datum.p==='B'"}],"mark":{"type":"rule","color":"black","strokeWidth":1.2},"encoding":{"y2":{"field":"v2"}}},
   {"data":{"name":"arr"},"transform":[{"filter":"datum.p==='B'"}],"mark":{"type":"point","shape":"triangle-down","filled":true,"color":"black","size":90,"yOffset":-4,"opacity":1},"encoding":{"y":{"field":"v2","type":"quantitative"}}},
   {"data":{"name":"lab"},"transform":[{"filter":"datum.p==='B' && datum.k==='a'"}],"mark":{"type":"text","font":"Liberation Serif","fontSize":20,"baseline":"alphabetic","align":"center","color":"black"},"encoding":{"text":{"field":"txt"}}},
   {"data":{"name":"lab"},"transform":[{"filter":"datum.p==='B' && datum.k==='h'"}],"mark":{"type":"text","font":"Liberation Serif","fontSize":24,"fontWeight":"bold","baseline":"middle","align":"center","color":"black"},"encoding":{"text":{"field":"txt"}}}
  ]},
 {"width":372,"height":248,"title":{"text":"D","dx":49,"offset":-12,"fontSize":26},
  "encoding":{"x":{"field":"t","type":"quantitative","scale":{"domain":[0,400],"nice":false,"zero":false},"axis":{"title":"Time (minutes)","values":[0,100,200,300,400]}},
   "y":{"field":"v","type":"quantitative","scale":{"domain":[0,80],"nice":false,"zero":false},"axis":{"title":"OCR (pmol/min/% area)","values":[0,20,40,60,80],"titlePadding":19}}},
  "layer":[
   {"data":{"name":"D"},"mark":{"type":"errorbar","ticks":{"size":7},"color":"#a8a8a8","thickness":1},"encoding":{"yError":{"field":"e"}}},
   {"data":{"name":"D"},"mark":{"type":"line","strokeWidth":2.5},"encoding":{"color":{"field":"s","type":"nominal","scale":{"domain":["Cg OD=0.08","Cn OD=0.08"],"range":["#19b419","#3b3bf5"]},"legend":null}}},
   {"data":{"name":"D"},"transform":[{"filter":"datum.s==='Cg OD=0.08'"}],"mark":{"type":"point","filled":true,"shape":"triangle-up","size":60,"opacity":1},"encoding":{"color":{"field":"s","type":"nominal","scale":{"domain":["Cg OD=0.08","Cn OD=0.08"],"range":["#19b419","#3b3bf5"]},"legend":null}}},
   {"data":{"name":"D"},"transform":[{"filter":"datum.s==='Cn OD=0.08'"}],"mark":{"type":"point","filled":true,"shape":"square","size":55,"opacity":1},"encoding":{"color":{"field":"s","type":"nominal","scale":{"domain":["Cg OD=0.08","Cn OD=0.08"],"range":["#19b419","#3b3bf5"]},"legend":null}}},
   {"data":{"name":"arr"},"transform":[{"filter":"datum.p==='D'"}],"mark":{"type":"rule","color":"black","strokeWidth":1.2},"encoding":{"y2":{"field":"v2"}}},
   {"data":{"name":"arr"},"transform":[{"filter":"datum.p==='D'"}],"mark":{"type":"point","shape":"triangle-down","filled":true,"color":"black","size":110,"yOffset":-4.5,"opacity":1},"encoding":{"y":{"field":"v2","type":"quantitative"}}},
   {"data":{"name":"lab"},"transform":[{"filter":"datum.p==='D' && datum.k==='a'"}],"mark":{"type":"text","font":"Liberation Serif","fontSize":26,"baseline":"alphabetic","align":"center","color":"black"},"encoding":{"text":{"field":"txt"}}},
   {"data":{"name":"lab"},"transform":[{"filter":"datum.p==='D' && datum.k==='h'"}],"mark":{"type":"text","font":"Liberation Serif","fontSize":24,"fontWeight":"bold","baseline":"middle","align":"center","color":"black"},"encoding":{"text":{"field":"txt"}}}
  ]}
 ],"spacing":60,
 "resolve":{"scale":{"x":"independent","y":"independent","color":"independent","fill":"independent","stroke":"independent","shape":"independent"},"legend":{"color":"independent","fill":"independent","stroke":"independent","shape":"independent"},"axis":{"x":"independent","y":"independent"}}}
]
}
